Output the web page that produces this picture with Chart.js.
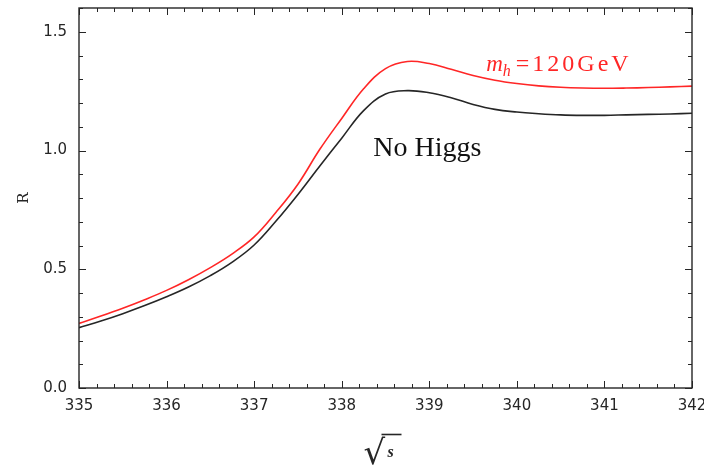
<!DOCTYPE html>
<html>
<head>
<meta charset="utf-8">
<script src="https://cdn.jsdelivr.net/npm/chart.js@4.4.1/dist/chart.umd.min.js"></script>
<style>
  html, body { margin: 0; padding: 0; background: #fff; }
  #wrap { width: 704px; height: 465px; }
</style>
</head>
<body>
<div id="wrap"><canvas id="ratio-chart" width="704" height="465"></canvas></div>
<script>
// sqrt(s) in GeV
const sqrtS = [335.00, 335.25, 335.50, 335.75, 336.00, 336.25, 336.50, 336.75, 337.00, 337.25,
               337.50, 337.75, 338.00, 338.25, 338.50, 338.75, 339.00, 339.25, 339.50, 339.75,
               340.00, 340.25, 340.50, 340.75, 341.00, 341.25, 341.50, 341.75, 342.00];

// R with a 120 GeV Higgs
const rHiggs = [0.272, 0.303, 0.336, 0.372, 0.411, 0.456, 0.507, 0.565, 0.636, 0.740,
                0.858, 1.005, 1.135, 1.260, 1.345, 1.375, 1.366, 1.342, 1.316, 1.296,
                1.282, 1.272, 1.266, 1.263, 1.262, 1.263, 1.265, 1.268, 1.271];

// R without Higgs
const rNoHiggs = [0.254, 0.282, 0.313, 0.347, 0.384, 0.425, 0.473, 0.530, 0.602, 0.703,
                  0.815, 0.935, 1.052, 1.168, 1.238, 1.252, 1.243, 1.222, 1.194, 1.173,
                  1.162, 1.155, 1.150, 1.148, 1.148, 1.150, 1.152, 1.154, 1.157];

const xMajor = [335, 336, 337, 338, 339, 340, 341, 342];
const yMajor = [0.0, 0.5, 1.0, 1.5];

const RED = 'rgb(255, 38, 38)';
const INK = '#262626';

function isMajor(v, list) {
    return list.some(m => Math.abs(m - v) < 1e-6);
}

// frame on all four sides with inward tick marks, mirrored top/right
const frameTicks = {
    id: 'frameTicks',
    afterDatasetsDraw(chart) {
        const { ctx, chartArea: a, scales: { x, y } } = chart;
        ctx.save();
        ctx.strokeStyle = INK;
        ctx.lineWidth = 1;
        ctx.beginPath();
        x.ticks.forEach(t => {
            const px = Math.round(x.getPixelForValue(t.value)) + 0.5;
            const len = isMajor(t.value, xMajor) ? 7 : 4;
            ctx.moveTo(px, a.bottom); ctx.lineTo(px, a.bottom - len);
            ctx.moveTo(px, a.top); ctx.lineTo(px, a.top + len);
        });
        y.ticks.forEach(t => {
            const py = Math.round(y.getPixelForValue(t.value)) + 0.5;
            const len = isMajor(t.value, yMajor) ? 7 : 4;
            ctx.moveTo(a.left, py); ctx.lineTo(a.left + len, py);
            ctx.moveTo(a.right, py); ctx.lineTo(a.right - len, py);
        });
        ctx.stroke();
        ctx.lineWidth = 1.4;
        ctx.strokeRect(a.left, a.top, a.right - a.left, a.bottom - a.top);
        ctx.restore();
    }
};

// curve labels and the sqrt(s) axis title
const curveLabels = {
    id: 'curveLabels',
    afterDraw(chart) {
        const { ctx, scales: { x, y } } = chart;
        ctx.save();
        ctx.textBaseline = 'alphabetic';

        // m_h = 120GeV
        let lx = x.getPixelForValue(339.65);
        const ly = y.getPixelForValue(1.335);
        ctx.fillStyle = RED;
        ctx.font = 'italic 23px "Liberation Serif"';
        ctx.fillText('m', lx, ly);
        lx += ctx.measureText('m').width;
        ctx.font = 'italic 16px "Liberation Serif"';
        ctx.fillText('h', lx, ly + 5);
        lx += ctx.measureText('h').width + 5;
        ctx.font = '24px "Liberation Serif"';
        ctx.letterSpacing = '3px';
        ctx.fillText('=120GeV', lx, ly);
        ctx.letterSpacing = '0px';

        // No Higgs
        ctx.fillStyle = '#111';
        ctx.font = '28px "Liberation Serif"';
        ctx.fillText('No Higgs', x.getPixelForValue(338.36), y.getPixelForValue(0.975));

        // sqrt(s) under the x axis
        const cx = (chart.chartArea.left + chart.chartArea.right) / 2;
        ctx.fillStyle = INK;
        ctx.font = '34px "DejaVu Sans"';
        ctx.fillText('\u221A', cx - 22, 464);
        ctx.strokeStyle = INK;
        ctx.lineWidth = 1.6;
        ctx.beginPath();
        ctx.moveTo(cx - 4, 434.5);
        ctx.lineTo(cx + 16, 434.5);
        ctx.stroke();
        ctx.font = 'italic bold 16px "Liberation Serif"';
        ctx.fillText('s', cx + 2, 457);
        ctx.restore();
    }
};

new Chart(document.getElementById('ratio-chart'), {
    type: 'line',
    data: {
        datasets: [
            {
                label: 'No Higgs',
                data: sqrtS.map((s, i) => ({ x: s, y: rNoHiggs[i] })),
                borderColor: INK,
                borderWidth: 1.6,
                pointRadius: 0,
                tension: 0.4
            },
            {
                label: 'mh=120GeV',
                data: sqrtS.map((s, i) => ({ x: s, y: rHiggs[i] })),
                borderColor: RED,
                borderWidth: 1.6,
                pointRadius: 0,
                tension: 0.4
            }
        ]
    },
    options: {
        responsive: false,
        animation: false,
        devicePixelRatio: 1,
        layout: { padding: { top: 8, right: 12, bottom: 0, left: 0 } },
        plugins: { legend: { display: false }, tooltip: { enabled: false } },
        scales: {
            x: {
                type: 'linear',
                min: 335,
                max: 342,
                ticks: {
                    stepSize: 0.2,
                    autoSkip: false,
                    maxRotation: 0,
                    padding: 9,
                    color: INK,
                    font: { family: '"DejaVu Sans"', size: 15 },
                    callback: v => isMajor(v, xMajor) ? String(Math.round(v)) : ''
                },
                grid: { display: false, drawTicks: false },
                border: { display: false },
                afterFit: s => { s.height = 77; s.paddingLeft = 0; s.paddingRight = 0; }
            },
            y: {
                min: 0,
                max: 1.6,
                ticks: {
                    stepSize: 0.1,
                    autoSkip: false,
                    padding: 12,
                    color: INK,
                    font: { family: '"DejaVu Sans"', size: 15 },
                    callback: v => isMajor(v, yMajor) ? v.toFixed(1) : ''
                },
                grid: { display: false, drawTicks: false },
                border: { display: false },
                title: {
                    display: true,
                    text: 'R',
                    color: INK,
                    font: { family: '"DejaVu Serif"', size: 15 },
                    padding: { top: 15, bottom: 0 }
                },
                afterFit: s => { s.width = 79; s.paddingTop = 0; s.paddingBottom = 0; }
            }
        }
    },
    plugins: [frameTicks, curveLabels]
});
</script>
</body>
</html>
